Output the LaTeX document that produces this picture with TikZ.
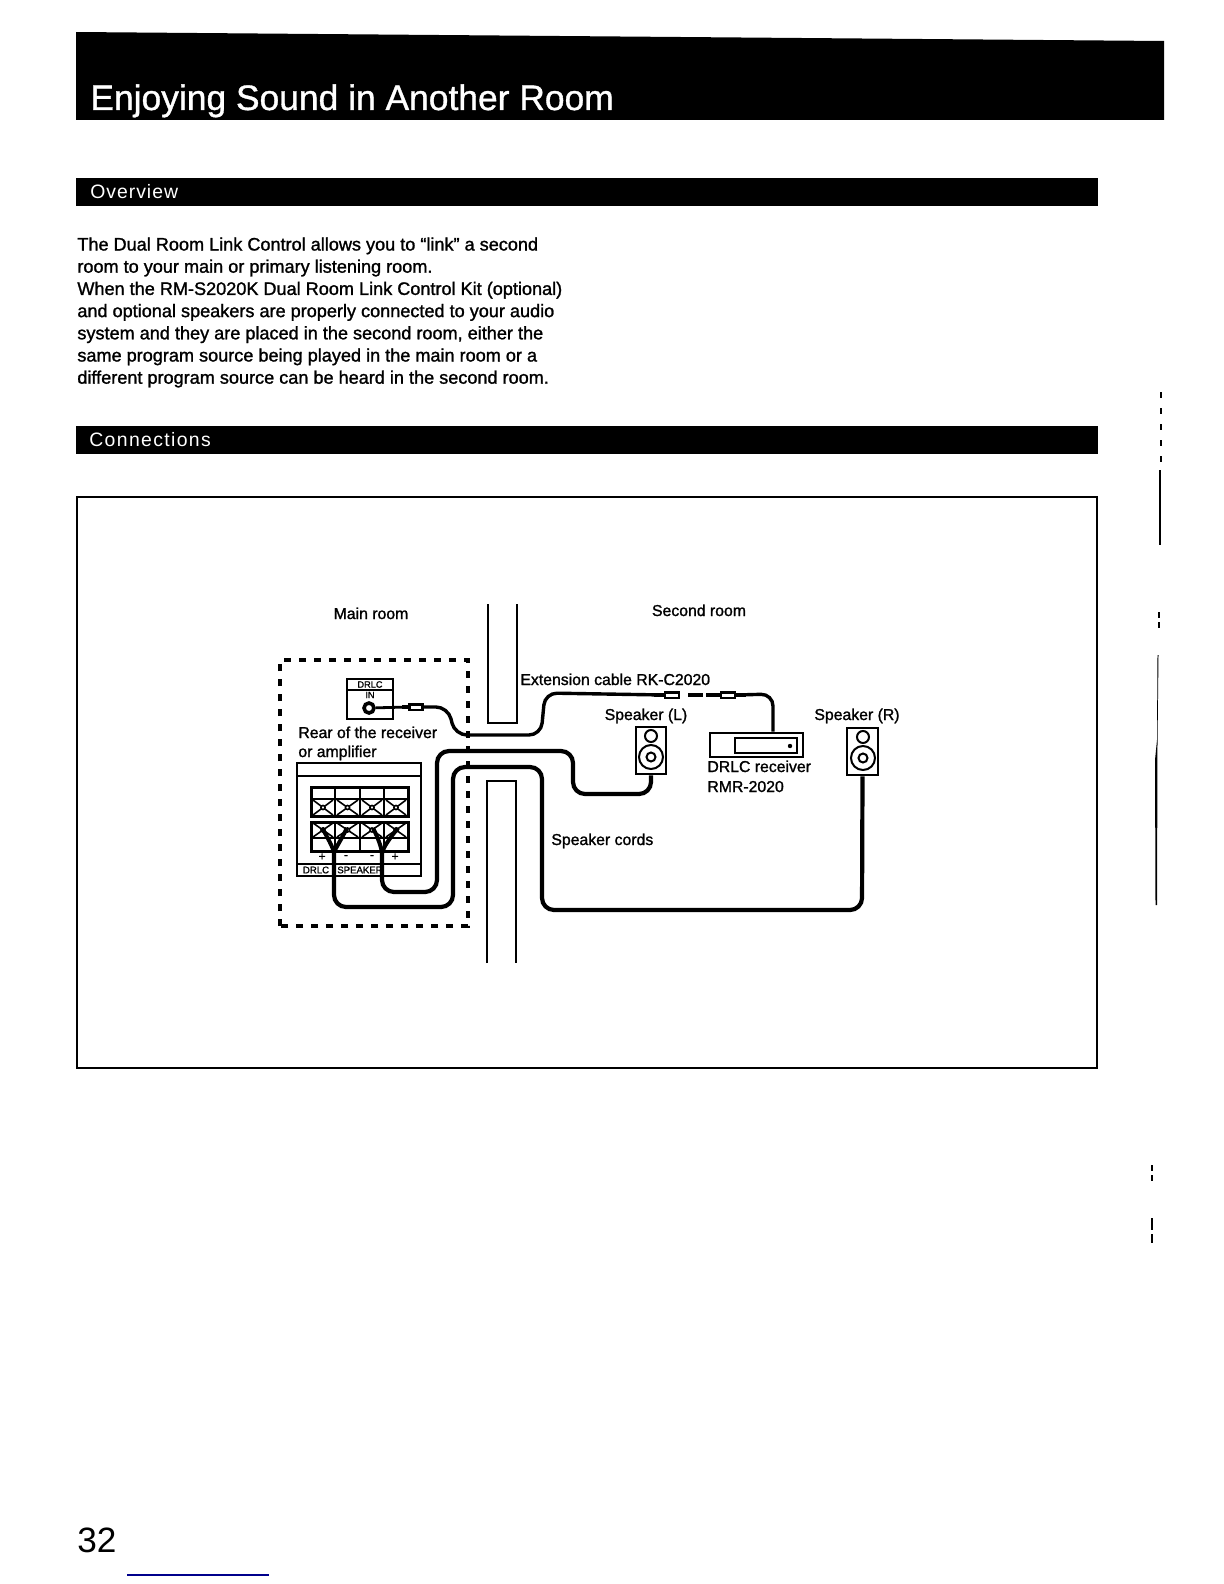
\documentclass[tikz,border=0pt]{standalone}
\usepackage{fontspec}
\setmainfont{Liberation Sans}
\newfontfamily\scanfont[FakeBold=1.3]{Liberation Sans}
\newfontfamily\titlefont[FakeBold=1.0]{Liberation Sans}
\newfontfamily\plainfont{Liberation Sans}
\tikzset{
  x=0.5pt,y=-0.5pt,
  band/.style={fill=black,draw=none},
  bandtext/.style={text=white,anchor=base west,inner sep=0pt,font=\plainfont\fontsize{9.7}{11}\selectfont},
  bodytext/.style={anchor=north west,inner sep=0pt,align=left,font=\scanfont\fontsize{9.05}{11.1}\selectfont},
  lab/.style={anchor=base west,inner sep=0pt,font=\scanfont\fontsize{7.9}{9.5}\selectfont},
  labc/.style={anchor=base,inner sep=0pt,font=\scanfont\fontsize{7.9}{9.5}\selectfont},
  tiny/.style={anchor=center,inner sep=0pt,font=\scanfont\fontsize{4.6}{5}\selectfont},
  sign/.style={anchor=center,inner sep=0pt,font=\scanfont\fontsize{6}{6}\selectfont},
  paneltext/.style={anchor=center,inner sep=0pt,font=\scanfont\fontsize{4.8}{5}\selectfont},
  wall/.style={line width=0.9pt},
  thinbox/.style={draw,line width=0.8pt,inner sep=0pt},
  heavybox/.style={draw,line width=1.3pt,inner sep=0pt},
  cable/.style={line width=2.1pt,rounded corners=6pt},
  thincable/.style={line width=1.7pt,rounded corners=6pt},
  plugbody/.style={draw,line width=1.1pt,fill=white,inner sep=0pt,minimum width=7pt,minimum height=2.6pt},
}
\begin{document}
\begin{tikzpicture}
\useasboundingbox (0,0) rectangle (1224,1584);
\fill[white] (0,0) rectangle (1224,1584);
% bands
\fill[band] (76,32) -- (1164,41) -- (1164,120) -- (76,120) -- cycle;
\node[anchor=base west,inner sep=0pt,text=white,font=\titlefont\fontsize{17.7}{20}\selectfont] (title) at (90,110) {Enjoying Sound in Another Room};
\fill[band] (76,178) rectangle (1098,206);
\node[bandtext] (ov) at (90,198) {\addfontfeature{LetterSpace=5}Overview};
\fill[band] (76,426) rectangle (1098,454);
\node[bandtext] (con) at (89,446) {\addfontfeature{LetterSpace=7}Connections};
% paragraph
\node[bodytext] (para) at (77,237) {The Dual Room Link Control allows you to “link” a second\\
room to your main or primary listening room.\\
When the RM-S2020K Dual Room Link Control Kit (optional)\\
and optional speakers are properly connected to your audio\\
system and they are placed in the second room, either the\\
same program source being played in the main room or a\\
different program source can be heard in the second room.};
% frame
\draw[line width=0.8pt] (77,497) rectangle (1097,1068);
% wall
\draw[wall] (488,604) -- (488,723) -- (517,723) -- (517,604);
\draw[wall] (487,963) -- (487,781) -- (516,781) -- (516,963);
% dashed room outline
\draw[line width=1.6pt,dash pattern=on 3.6pt off 3.9pt] (280,926) -- (280,660) -- (468,660) -- (468,926) -- cycle;
% labels
\node[labc] (mainroom) at (371,619) {Main room};
\node[labc] (secondroom) at (699,616) {Second room};
\node[lab] (ext) at (520,685) {Extension cable RK-C2020};
\node[labc] (lspk) at (646,720) {Speaker (L)};
\node[labc] (rspk) at (857,720) {Speaker (R)};
\node[lab] (drlcrx) at (707,772) {DRLC receiver};
\node[lab] (rmr) at (707,792) {RMR-2020};
\node[lab] (cords) at (551,845) {Speaker cords};
\node[lab] (rear1) at (298,738) {Rear of the receiver};
\node[lab] (rear2) at (298,757) {or amplifier};
% DRLC IN jack
\node[thinbox,minimum width=23pt,minimum height=20pt] (drlcin) at (370,699) {};
\draw[line width=0.8pt] (347,690) -- (393,690);
\node[tiny] (drlct) at (370,684.5) {DRLC};
\node[tiny] (int) at (370,695) {IN};
\node[draw,circle,line width=1.8pt,minimum size=5pt,inner sep=0pt,fill=white] (jack) at (369,708) {};
\node[plugbody,minimum width=6.5pt] (plugA) at (416,707) {};
\draw[line width=1.4pt] (jack) -- (plugA.west);
\draw[line width=2.4pt] (402,707) -- (plugA.west);
% rear panel
\node[thinbox,minimum width=62pt,minimum height=56.5pt] (panel) at (359,819.5) {};
\draw[line width=1pt] (297,776) -- (421,776);
\draw[line width=1pt] (297,864) -- (421,864);
% terminal blocks
\foreach \nm/\y/\m/\ytop/\ybot in {a/787/799/799/816,b/822/838/822/838}{
  \draw[line width=1.5pt] (311,\y) rectangle (408,\y+29);
  \draw[line width=1pt] (311,\m) -- (408,\m);
  \foreach \xa/\xb in {311/335,335/360,360/384,384/408}{
    \draw[line width=1.4pt] (\xa,\y) -- (\xa,\y+29);
    \draw[line width=0.8pt] (\xa+2,\ytop+1) -- (\xb-2,\ybot-1) (\xa+2,\ybot-1) -- (\xb-2,\ytop+1);
    \node[draw,circle,line width=0.8pt,minimum size=2pt,inner sep=0pt,fill=white] at ({(\xa+\xb)/2},{(\ytop+\ybot)/2}) {};
  }
}
\node[sign] (p1) at (322,857) {+};
\node[sign] (m1) at (346,857) {-};
\node[sign] (m2) at (372,857) {-};
\node[sign] (p2) at (395,857) {+};
\node[paneltext] (pd) at (316,870) {DRLC};
\draw[line width=0.8pt] (333,864) -- (333,876);
\node[paneltext] (ps) at (360,870) {SPEAKER};
% terminal coordinates
\coordinate (t1) at (322,828);
\coordinate (t2) at (347,828);
\coordinate (t3) at (373,828);
\coordinate (t4) at (398,828);
\coordinate (fa) at (334,852);
\coordinate (fb) at (382,853);
% speakers
\node[heavybox,minimum width=15pt,minimum height=23.5pt] (spkL) at (651,750.5) {};
\node[heavybox,minimum width=15.5pt,minimum height=23.5pt] (spkR) at (862.5,751.5) {};
\foreach \s/\cx/\ya/\yb in {spkL/651/736/757,spkR/863/737/758}{
  \draw[line width=1pt] (\cx,\ya) circle[radius=6];
  \draw[line width=1pt] (\cx,\yb) circle[radius=12];
  \draw[line width=1pt] (\cx,\yb) circle[radius=4.5];
}
% receiver
\node[heavybox,minimum width=46.5pt,minimum height=12pt] (rx) at (756.5,745) {};
\node[thinbox,minimum width=31pt,minimum height=7.5pt] (rxin) at (766,745.5) {};
\fill (790,746) circle[radius=2.2];
% extension cable and plugs
\node[plugbody] (plugB) at (672,695) {};
\node[plugbody] (plugC) at (728,695) {};
\draw[line width=2.4pt] (plugB.west) -- ++(-10,0);
\draw[line width=2.4pt] (plugC.west) -- ++(-14,0);
\draw[line width=2.4pt] (plugC.east) -- ++(10,0);
\draw[line width=1.6pt] (688,695) -- (703,695);
\draw[thincable] (plugA.east) -- (448,707) -- (455,735) -- (541,735) -- (545,693) -- (plugB.west);
\draw[thincable] (plugC.east) -- (773,694) -- (rx.north -| 773,733);
% speaker cords
\draw[cable] (spkL.south) -- (651,794) -- (573,794) -- (573,751) -- (437,751) -- (437,892) -- (382,892) -- (fb);
\draw[cable] (spkR.south) -- (862,910) -- (542,910) -- (542,767) -- (453,767) -- (453,907) -- (334,907) -- (fa);
% forks
\draw[line width=2pt] (t1) .. controls (328,838) and (332,846) .. (fa);
\draw[line width=2pt] (t2) .. controls (342,838) and (337,846) .. (fa);
\draw[line width=2pt] (t3) .. controls (378,838) and (381,846) .. (fb);
\draw[line width=2pt] (t4) .. controls (390,838) and (384,846) .. (fb);
% page number
\node[anchor=base west,inner sep=0pt,font=\plainfont\fontsize{17.6}{20}\selectfont] (pageno) at (77,1552) {32};
\draw[line width=0.6pt,color=blue!55!black] (127,1575) -- (269,1575);
% scan marks at the right edge
\draw[line width=0.7pt] (1160,470) -- (1160,545);
\draw[line width=0.7pt,dash pattern=on 3pt off 5pt] (1161,392) -- (1161,470);
\draw[line width=0.7pt,dash pattern=on 3pt off 2pt] (1159,612) -- (1159,628);
\fill (1157.5,655) -- (1158.5,655) -- (1157.5,740) -- (1157,905) -- (1155.5,905) -- (1155,760) -- (1157,740) -- cycle;
\draw[line width=0.7pt,dash pattern=on 3pt off 2pt] (1152,1165) -- (1152,1182);
\draw[line width=0.7pt,dash pattern=on 6pt off 2pt] (1152,1218) -- (1152,1243);
\end{tikzpicture}
\end{document}
